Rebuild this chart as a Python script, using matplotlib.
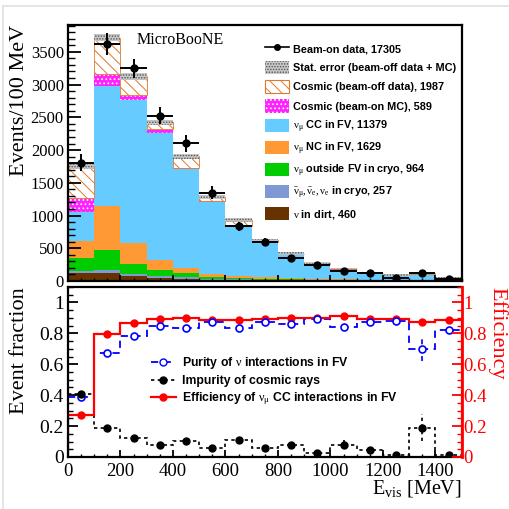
import numpy as np
import matplotlib
matplotlib.use("Agg")
import matplotlib.pyplot as plt
from matplotlib.patches import Patch
from matplotlib.lines import Line2D
from matplotlib.ticker import MultipleLocator

plt.rcParams["font.family"] = ["Liberation Serif", "DejaVu Serif"]
plt.rcParams["mathtext.fontset"] = "custom"
plt.rcParams["mathtext.rm"] = "Liberation Serif"
plt.rcParams["mathtext.it"] = "Liberation Serif:italic"
plt.rcParams["hatch.linewidth"] = 0.7

# 100 MeV bins of visible energy
edges = np.arange(0, 1600, 100)
centers = edges[:-1] + 50

# stacked MC components, events per bin
dirt = [120, 120, 70, 45, 30, 20, 15, 12, 9, 7, 5, 3, 2, 1, 1]
nubar = [30, 50, 40, 30, 25, 15, 12, 10, 8, 6, 5, 4, 3, 2, 2]
out_fv = [195, 300, 154, 97, 72, 32, 21, 15, 10, 8, 6, 5, 4, 3, 2]
numu_nc = [270, 676, 323, 154, 77, 41, 31, 20, 15, 10, 8, 6, 5, 4, 3]
numu_cc = [434, 1837, 2173, 1932, 1506, 1102, 763, 535, 360, 220, 150, 100, 63, 97, 39]
cosmic_mc = [220, 180, 77, 60, 15, 15, 5, 5, 3, 2, 2, 2, 15, 2, 2]
cosmic_off = [489, 550, 288, 103, 180, 61, 83, 25, 15, 15, 15, 10, 0, 10, 5]
stat_err = [50, 55, 50, 40, 35, 30, 25, 20, 17, 15, 12, 10, 8, 10, 6]

data = [1810, 3620, 3246, 2526, 2101, 1348, 835, 592, 359, 248, 160, 130, 50, 115, 25]
data_err = [130, 170, 150, 130, 130, 100, 70, 60, 45, 40, 30, 30, 25, 30, 20]

# purity / impurity / efficiency per bin
purity = [0.39, 0.676, 0.785, 0.845, 0.833, 0.876, 0.833, 0.876, 0.858, 0.89, 0.839, 0.876, 0.882, 0.697, 0.822]
purity_err = [0.01, 0.01, 0.01, 0.01, 0.01, 0.01, 0.01, 0.01, 0.015, 0.015, 0.02, 0.02, 0.015, 0.075, 0.02]
impurity = [0.41, 0.185, 0.12, 0.077, 0.103, 0.06, 0.11, 0.06, 0.075, 0.024, 0.08, 0.043, 0.01, 0.19, 0.01]
impurity_err = [0.01, 0.01, 0.01, 0.01, 0.01, 0.01, 0.015, 0.015, 0.02, 0.015, 0.03, 0.02, 0.01, 0.085, 0.01]
efficiency = [0.27, 0.796, 0.865, 0.89, 0.90, 0.888, 0.888, 0.89, 0.897, 0.897, 0.914, 0.893, 0.893, 0.871, 0.884]

c_dirt = "#663300"
c_nubar = "#7f9ad2"
c_outfv = "#00cc00"
c_nc = "#ff9933"
c_cc = "#66ccff"
c_cmc = "#ff22ff"
c_coff = "#e07a2a"

fig = plt.figure(figsize=(5.09, 5.09), dpi=100)
ax = fig.add_axes([0.1336, 0.4479, 0.7735, 0.503])
axb = fig.add_axes([0.1336, 0.1022, 0.7735, 0.3339])

# frame around canvas
fig.add_artist(Line2D([3 / 509, 1], [1 - 6 / 509] * 2, color="#e0e0e0", lw=1.2))
fig.add_artist(Line2D([3 / 509] * 2, [0, 1 - 6 / 509], color="#e0e0e0", lw=1.2))

# ---- top panel: stacked histogram
bottom = np.zeros(len(centers))
stack = [(dirt, c_dirt), (nubar, c_nubar), (out_fv, c_outfv), (numu_nc, c_nc), (numu_cc, c_cc)]
for vals, col in stack:
    ax.bar(edges[:-1], vals, width=100, align="edge", bottom=bottom, color=col, lw=0)
    bottom += np.array(vals)
ax.bar(edges[:-1], cosmic_mc, width=100, align="edge", bottom=bottom,
       facecolor=c_cmc, edgecolor="white", hatch="....", lw=0)
bottom += np.array(cosmic_mc)
ax.bar(edges[:-1], cosmic_off, width=100, align="edge", bottom=bottom,
       facecolor="white", edgecolor=c_coff, hatch="\\\\\\", lw=0.6)
bottom += np.array(cosmic_off)
serr = np.array(stat_err)
ax.bar(edges[:-1], 2 * serr, width=100, align="edge", bottom=bottom - serr,
       facecolor="#c8c8c8", edgecolor="#555555", hatch="......", lw=0)

ax.errorbar(centers, data, xerr=50, yerr=data_err, fmt="o", color="k",
            ms=5, lw=1.4, capsize=0, zorder=5)

ax.set_xlim(0, 1500)
ax.set_ylim(0, 3910)
ax.yaxis.set_major_locator(MultipleLocator(500))
ax.yaxis.set_minor_locator(MultipleLocator(100))
ax.xaxis.set_major_locator(MultipleLocator(200))
ax.xaxis.set_minor_locator(MultipleLocator(50))
ax.tick_params(axis="y", which="major", direction="in", length=9, width=1.3, labelsize=12, pad=3)
ax.tick_params(axis="y", which="minor", direction="in", length=5, width=1.0)
ax.tick_params(axis="x", which="major", direction="in", length=4, width=1.3, labelbottom=False)
ax.tick_params(axis="x", which="minor", direction="in", length=2, width=1.0)
for s in ax.spines.values():
    s.set_linewidth(1.6)
ax.set_ylabel("Events/100 MeV", fontsize=16, loc="top")
ax.yaxis.set_label_coords(-0.099, 1.0)
ax.text(0.175, 0.941, "MicroBooNE", transform=ax.transAxes, fontsize=11.5,
        va="center", ha="left")

leg_font = {"family": ["Liberation Sans", "DejaVu Sans"], "weight": "bold", "size": 7.8}
handles = [
    Line2D([], [], color="k", marker="o", ms=4, lw=1.2),
    Patch(facecolor="#c8c8c8", edgecolor="#555555", hatch="......", lw=0),
    Patch(facecolor="white", edgecolor=c_coff, hatch="\\\\\\", lw=0.8),
    Patch(facecolor=c_cmc, edgecolor="white", hatch="....", lw=0),
    Patch(facecolor=c_cc, lw=0),
    Patch(facecolor=c_nc, lw=0),
    Patch(facecolor=c_outfv, lw=0),
    Patch(facecolor=c_nubar, lw=0),
    Patch(facecolor=c_dirt, lw=0),
]
labels = [
    "Beam-on data, 17305",
    "Stat. error (beam-off data + MC)",
    "Cosmic (beam-off data), 1987",
    "Cosmic (beam-on MC), 589",
    r"$\mathrm{\nu_{\mu}}$ CC in FV, 11379",
    r"$\mathrm{\nu_{\mu}}$ NC in FV, 1629",
    r"$\mathrm{\nu_{\mu}}$ outside FV in cryo, 964",
    r"$\mathrm{\bar{\nu}_{\mu},\bar{\nu}_{e},\nu_{e}}$ in cryo, 257",
    r"$\mathrm{\nu}$ in dirt, 460",
]
ax.legend(handles, labels, loc="upper left", bbox_to_anchor=(0.487, 0.955),
          frameon=False, prop=leg_font, borderpad=0, handlelength=2.2,
          handleheight=1.5, labelspacing=0.55, handletextpad=0.35)

# ---- bottom panel: purity, impurity, efficiency
axb.stairs(purity, edges, color="#0000ff", ls=(0, (4, 3)), lw=1.3, baseline=None)
eb = axb.errorbar(centers, purity, yerr=purity_err, fmt="o", mfc="white", mec="#0000ff",
                  mew=1.2, color="#0000ff", ms=5, capsize=0, elinewidth=1.2)
eb[2][0].set_linestyle((0, (3, 2)))
axb.stairs(impurity, edges, color="k", ls=(0, (2, 2)), lw=1.2, baseline=None)
eb = axb.errorbar(centers, impurity, yerr=impurity_err, fmt="o", color="k", ms=5,
                  capsize=0, elinewidth=1.2)
eb[2][0].set_linestyle((0, (2, 2)))
axb.stairs(efficiency, edges, color="#ff0000", lw=1.6, baseline=0)
axb.plot(centers, efficiency, "o", color="#ff0000", ms=5)

axb.set_xlim(0, 1500)
axb.set_ylim(0, 1.1)
axb.xaxis.set_major_locator(MultipleLocator(200))
axb.xaxis.set_minor_locator(MultipleLocator(50))
axb.yaxis.set_major_locator(MultipleLocator(0.2))
axb.yaxis.set_minor_locator(MultipleLocator(0.05))
axb.yaxis.set_major_formatter(plt.FuncFormatter(lambda v, p: f"{v:g}"))
axb.tick_params(axis="x", which="major", direction="in", length=5, width=1.3, labelsize=13.5, pad=4)
axb.tick_params(axis="x", which="minor", direction="in", length=2.5, width=1.0)
axb.tick_params(axis="y", which="major", direction="in", length=7, width=1.3, labelsize=14, pad=3)
axb.tick_params(axis="y", which="minor", direction="in", length=3.5, width=1.0)
for s in axb.spines.values():
    s.set_linewidth(1.6)
axb.spines["right"].set_visible(False)
axb.set_ylabel("Event fraction", fontsize=16, loc="top")
axb.yaxis.set_label_coords(-0.099, 1.0)
axb.set_xlabel(r"E$_{\mathrm{vis}}$ [MeV]", fontsize=14.5, loc="right")
axb.xaxis.set_label_coords(1.0, -0.125)

axr = axb.twinx()
axr.set_ylim(0, 1.1)
axr.yaxis.set_major_locator(MultipleLocator(0.2))
axr.yaxis.set_minor_locator(MultipleLocator(0.05))
axr.yaxis.set_major_formatter(plt.FuncFormatter(lambda v, p: f"{v:g}"))
axr.tick_params(axis="y", which="major", direction="in", length=7, width=1.3,
                labelsize=13.5, pad=1, colors="#ff0000")
axr.tick_params(axis="y", which="minor", direction="in", length=3.5, width=1.0, colors="#ff0000")
for name, s in axr.spines.items():
    s.set_visible(name == "right")
axr.spines["right"].set_color("#ff0000")
axr.spines["right"].set_linewidth(2.0)
fig.text(492 / 509, 1 - 287 / 509, "Efficiency", rotation=270, rotation_mode="anchor",
         ha="left", va="baseline", fontsize=16, color="#ff0000")

leg_font_b = {"family": ["Liberation Sans", "DejaVu Sans"], "weight": "bold", "size": 8.8}
handles_b = [
    Line2D([], [], color="#0000ff", ls=(0, (4, 3)), lw=1.3, marker="o", mfc="white", mec="#0000ff", ms=5),
    Line2D([], [], color="k", ls=(0, (2, 2)), lw=1.2, marker="o", ms=5),
    Line2D([], [], color="#ff0000", lw=1.6, marker="o", ms=5),
]
labels_b = [
    r"Purity of $\mathrm{\nu}$ interactions in FV",
    "Impurity of cosmic rays",
    r"Efficiency of $\mathrm{\nu_{\mu}}$ CC interactions in FV",
]
axb.legend(handles_b, labels_b, loc="upper left", bbox_to_anchor=(0.195, 0.635),
           frameon=False, prop=leg_font_b, borderpad=0, handlelength=2.05,
           labelspacing=0.3, handletextpad=0.5)

fig.savefig("out.png", dpi=100)
